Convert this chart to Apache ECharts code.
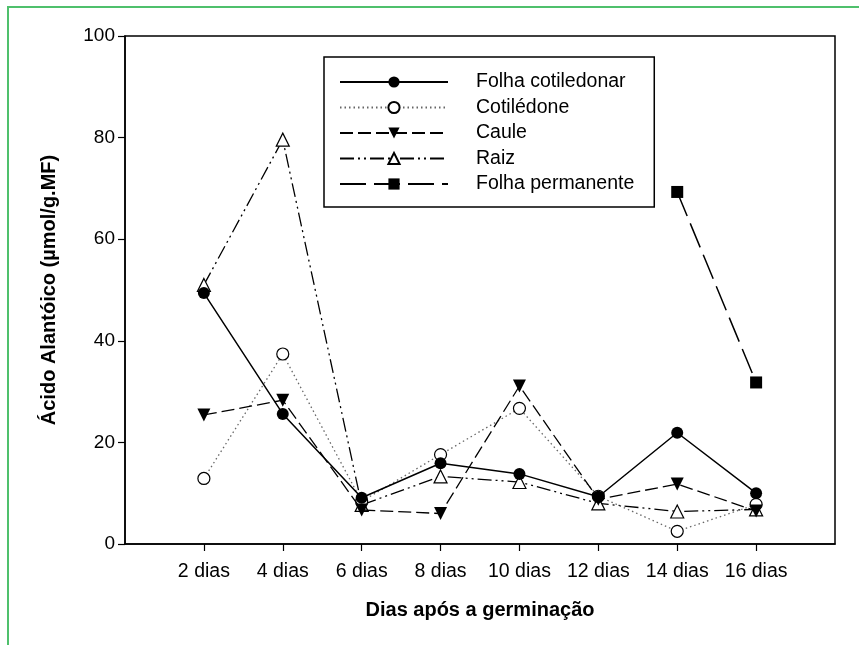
<!DOCTYPE html>
<html>
<head>
<meta charset="utf-8">
<script src="https://cdn.jsdelivr.net/npm/echarts@6/dist/echarts.min.js"></script>
<style>
  html, body { margin: 0; padding: 0; background: #fff; }
  #frame { position: absolute; left: 7px; top: 6px; width: 900px; height: 700px;
           border-left: 2px solid #4fc06c; border-top: 2px solid #4fc06c; }
  #mainChart { position: absolute; left: 0; top: 0; width: 859px; height: 645px; }
</style>
</head>
<body>
<div id="frame"></div>
<div id="mainChart"></div>
<script type="text/javascript">
// dias após a germinação
var dias = [2, 4, 6, 8, 10, 12, 14, 16];
var diaLabels = ['2 dias', '4 dias', '6 dias', '8 dias', '10 dias', '12 dias', '14 dias', '16 dias'];
var yTicks = [0, 20, 40, 60, 80, 100];

// ácido alantóico (µmol/g.MF)
var folhaCotiledonar = [49.4, 25.6, 9.1, 15.9, 13.8, 9.3, 21.9, 10.0];
var cotiledone = [12.9, 37.4, 8.4, 17.6, 26.7, 9.4, 2.5, 7.8];
var caule = [25.4, 28.3, 6.7, 6.0, 31.1, 8.8, 11.8, 6.5];
var raiz = [51.0, 79.6, 7.7, 13.3, 12.2, 8.0, 6.4, 6.8];
var folhaPermanente = [null, null, null, null, null, null, 69.3, 31.8];

function pares(vals) {
    var out = [];
    for (var i = 0; i < dias.length; i++) {
        if (vals[i] !== null) out.push([dias[i], vals[i]]);
    }
    return out;
}

var fonte = 'Liberation Sans, Arial, sans-serif';
var myChart = echarts.init(document.getElementById('mainChart'), null, { renderer: 'canvas' });

var options = {
    backgroundColor: 'transparent',
    animation: false,
    textStyle: { fontFamily: fonte, color: '#000' },
    grid: {
        left: 125, right: 24, top: 36, bottom: 101,
        show: true, borderColor: '#000', borderWidth: 1.5, backgroundColor: 'transparent'
    },
    legend: {
        orient: 'vertical',
        left: 324, top: 57,
        padding: [15, 20, 13, 15],
        itemWidth: 108, itemHeight: 14, itemGap: 5.5,
        borderColor: '#000', borderWidth: 1.5,
        backgroundColor: '#fff',
        textStyle: { fontFamily: fonte, fontSize: 19.5, color: '#000', padding: [0, 0, 0, 23] },
        data: ['Folha cotiledonar', 'Cotilédone', 'Caule', 'Raiz', 'Folha permanente']
    },
    xAxis: {
        type: 'value',
        min: 0, max: 18, interval: 2,
        name: 'Dias após a germinação',
        nameLocation: 'middle', nameGap: 56,
        nameTextStyle: { fontFamily: fonte, fontSize: 20, fontWeight: 'bold', color: '#000' },
        axisLine: { onZero: false, lineStyle: { color: '#000', width: 1.5 } },
        axisTick: { show: true, length: 7, customValues: dias, lineStyle: { color: '#000', width: 1.2 } },
        axisLabel: {
            customValues: dias, margin: 18,
            fontFamily: fonte, fontSize: 19.5, color: '#000',
            formatter: function (v) { return diaLabels[dias.indexOf(v)] || ''; }
        },
        splitLine: { show: false }
    },
    yAxis: {
        type: 'value',
        min: 0, max: 100, interval: 20,
        name: 'Ácido Alantóico (µmol/g.MF)',
        nameLocation: 'middle', nameGap: 66,
        nameTextStyle: { fontFamily: fonte, fontSize: 20, fontWeight: 'bold', color: '#000' },
        axisLine: { show: true, lineStyle: { color: '#000', width: 1.5 } },
        axisTick: { show: true, length: 7, customValues: yTicks, lineStyle: { color: '#000', width: 1.2 } },
        axisLabel: { margin: 10, fontFamily: fonte, fontSize: 19, color: '#000' },
        splitLine: { show: false }
    },
    series: [
        {
            name: 'Raiz', type: 'line', z: 3,
            data: pares(raiz),
            symbol: 'triangle', symbolSize: 13,
            itemStyle: { color: '#fff', borderColor: '#000', borderWidth: 1.2 },
            lineStyle: { color: '#000', width: 1.3, type: [14, 4, 2, 4, 2, 4] }
        },
        {
            name: 'Cotilédone', type: 'line', z: 4,
            data: pares(cotiledone),
            symbol: 'circle', symbolSize: 12,
            itemStyle: { color: '#fff', borderColor: '#000', borderWidth: 1.2 },
            lineStyle: { color: '#666', width: 1.3, type: [1.5, 3] }
        },
        {
            name: 'Caule', type: 'line', z: 5,
            data: pares(caule),
            symbol: 'path://M0,0L10,0L5,10Z', symbolSize: 13,
            itemStyle: { color: '#000', borderColor: '#000', borderWidth: 0 },
            lineStyle: { color: '#000', width: 1.3, type: [13, 5] }
        },
        {
            name: 'Folha cotiledonar', type: 'line', z: 6,
            data: pares(folhaCotiledonar),
            symbol: 'circle', symbolSize: 12,
            itemStyle: { color: '#000', borderColor: '#000', borderWidth: 0 },
            lineStyle: { color: '#000', width: 1.5, type: 'solid' }
        },
        {
            name: 'Folha permanente', type: 'line', z: 6,
            data: pares(folhaPermanente),
            symbol: 'rect', symbolSize: 12,
            itemStyle: { color: '#000', borderColor: '#000', borderWidth: 0 },
            lineStyle: { color: '#000', width: 1.5, type: [26, 8] }
        }
    ]
};

myChart.setOption(options);
</script>
</body>
</html>
